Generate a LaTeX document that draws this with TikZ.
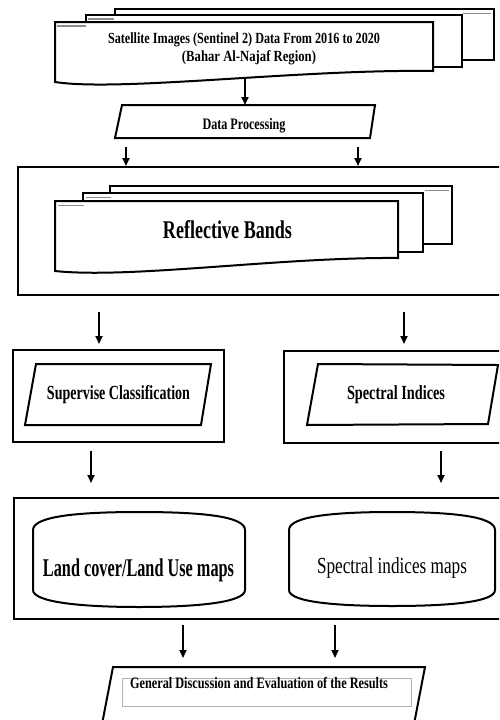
\documentclass[tikz,border=0pt]{standalone}
\usepackage{fontspec}
\setmainfont{Liberation Serif}
\usepackage{graphicx}
\usetikzlibrary{arrows.meta}
\newcommand\fitb[3]{\resizebox{#1pt}{\height}{\fontsize{#2}{#2}\selectfont\bfseries #3}}
\newcommand\fitr[3]{\resizebox{#1pt}{\height}{\fontsize{#2}{#2}\selectfont #3}}
\tikzset{
  shp/.style={draw=black, line width=2pt, fill=white, line join=miter},
  frame/.style={draw=black, line width=1.9pt},
  arr/.style={line width=1.8pt, -{Triangle[length=8pt,width=7pt]}},
  tab/.style={draw=black!45, line width=1.2pt},
  txt/.style={inner sep=0pt, anchor=base}
}
\begin{document}
\begin{tikzpicture}[x=1pt,y=-1pt]
\useasboundingbox (0,0) rectangle (499,720);
\fill[white] (0,0) rectangle (499,720);
\clip (0,0) rectangle (499,720);

% ---- top stacked documents
\path[shp] (115,9) rectangle (494,60);
\draw[tab] (463,13.5) -- (491,13.5);
\path[shp] (86,15) rectangle (462,67);
\draw[tab] (88,19) -- (114,19);
\path[shp] (55,22) -- (433,22) -- (433,71) .. controls (300,69) and (120,92) .. (55,82) -- cycle;
\draw[tab] (57,26) -- (86,26);
\node[txt] (sat1) at (244,43) {\fitb{272}{15.5}{Satellite Images (Sentinel 2) Data From 2016 to 2020}};
\node[txt] (sat2) at (249,61.5) {\fitb{134}{15.5}{(Bahar Al-Najaf Region)}};

% ---- data processing
\path[shp] (122,105) -- (375,105) -- (370,138) -- (115,138) -- cycle;
\node[txt] (dp) at (244,129) {\fitb{83}{16}{Data Processing}};
\coordinate (a0s) at (245,77);
\coordinate (a0e) at (245,105);
\draw[arr] (a0s) -- (a0e);

\coordinate (a1s) at (126,147);
\coordinate (a1e) at (126,166);
\coordinate (a2s) at (358,147);
\coordinate (a2e) at (358,166);
\draw[arr] (a1s) -- (a1e);
\draw[arr] (a2s) -- (a2e);

% ---- reflective bands frame
\draw[frame] (18,167) rectangle (520,295);
\path[shp] (110,186) rectangle (452,244);
\draw[tab] (425,190.5) -- (449,190.5);
\path[shp] (83,193) rectangle (423,252);
\draw[tab] (86,197.5) -- (111,197.5);
\path[shp] (55,201) -- (398,201) -- (398,258) .. controls (280,257) and (130,279) .. (55,271) -- cycle;
\draw[tab] (58,205.5) -- (84,205.5);
\node[txt] (rb) at (227.5,238.5) {\fitb{129}{25.5}{Reflective Bands}};

\coordinate (a3s) at (99,312);
\coordinate (a3e) at (99,344);
\coordinate (a4s) at (404,312);
\coordinate (a4e) at (404,344);
\draw[arr] (a3s) -- (a3e);
\draw[arr] (a4s) -- (a4e);

% ---- classification / indices
\draw[frame] (13,350) rectangle (224,442);
\path[shp] (36,364) -- (211,364) -- (201,425) -- (25,425) -- cycle;
\node[txt] (sc) at (118.5,399) {\fitb{143}{20}{Supervise Classification}};
\draw[frame] (284,351) rectangle (520,443);
\path[shp] (318,364) -- (498,365) -- (488,424) -- (307,425) -- cycle;
\node[txt] (si) at (396,399) {\fitb{98}{20}{Spectral Indices}};

\coordinate (a5s) at (91,451);
\coordinate (a5e) at (91,483);
\coordinate (a6s) at (441,451);
\coordinate (a6e) at (441,483);
\draw[arr] (a5s) -- (a5e);
\draw[arr] (a6s) -- (a6e);

% ---- maps frame
\draw[frame] (14,498) rectangle (520,619);
\path[shp] (33,590) -- (33,530) .. controls (33,516) and (80,512) .. (139,512)
  .. controls (200,512) and (245,516) .. (245,530) -- (245,590)
  .. controls (245,602) and (200,607) .. (139,607)
  .. controls (80,607) and (33,602) .. (33,590) -- cycle;
\node[txt] (lc) at (138.5,576.5) {\fitb{191}{25.5}{Land cover/Land Use maps}};
\path[shp] (289,590) -- (289,530) .. controls (289,516) and (336,512) .. (392,512)
  .. controls (450,512) and (495,516) .. (495,530) -- (495,590)
  .. controls (495,602) and (450,606) .. (392,606)
  .. controls (336,606) and (289,602) .. (289,590) -- cycle;
\node[txt] (sm) at (392,573.5) {\fitr{150}{23}{Spectral indices maps}};

\coordinate (a7s) at (183,625);
\coordinate (a7e) at (183,658);
\coordinate (a8s) at (335,625);
\coordinate (a8e) at (335,658);
\draw[arr] (a7s) -- (a7e);
\draw[arr] (a8s) -- (a8e);

% ---- general discussion
\path[shp] (113,667) -- (425,667) -- (410,745) -- (98,745) -- cycle;
\draw[draw=black!30, line width=1pt] (122,678) rectangle (411,706);
\node[txt] (gd) at (259,688) {\fitb{258}{16}{General Discussion and Evaluation of the Results}};
\end{tikzpicture}
\end{document}
